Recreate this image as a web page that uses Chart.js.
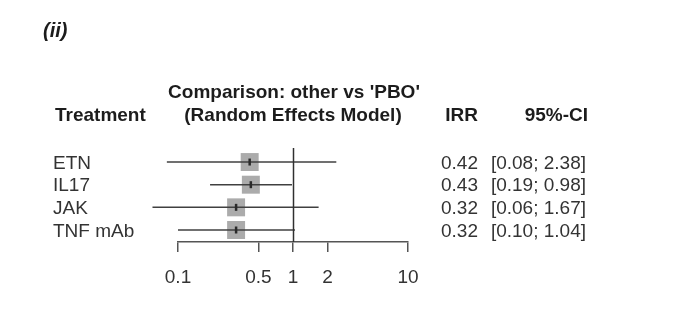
<!DOCTYPE html>
<html>
<head>
<meta charset="utf-8">
<script src="https://cdn.jsdelivr.net/npm/chart.js@4.4.1/dist/chart.umd.min.js"></script>
<style>
  html, body { margin: 0; padding: 0; background: #fff; }
  #wrap { position: relative; width: 691px; height: 335px; overflow: hidden; font-family: "Liberation Sans", Arial, sans-serif; }
  #wrap canvas { position: absolute; left: 0; top: 0; }
  .t { position: absolute; white-space: nowrap; line-height: 1; }
  .hdr { font-weight: bold; color: #1c1c1c; font-size: 19px; }
  .row { color: #333; font-size: 19px; }
  .ttl { font-weight: bold; font-style: italic; color: #1c1c1c; font-size: 20px; }
</style>
</head>
<body>
<div id="wrap">
  <canvas id="c" width="691" height="335"></canvas>
</div>
<script>
// Network meta-analysis: incidence rate ratios versus placebo
const treatments = ['ETN', 'IL17', 'JAK', 'TNF mAb'];
const irr   = [0.42, 0.43, 0.32, 0.32];
const ciLow = [0.08, 0.19, 0.06, 0.10];
const ciHigh = [2.38, 0.98, 1.67, 1.04];
const tickValues = [0.1, 0.5, 1, 2, 10];
const refValue = 1;

const FS = 19;
const wrap = document.getElementById('wrap');

// place a text node with its baseline at y
function addText(txt, cls, x, baseline, align, fs) {
  fs = fs || FS;
  const el = document.createElement('div');
  el.className = 't ' + cls;
  el.textContent = txt;
  el.style.top = (baseline - 0.8465 * fs) + 'px';
  wrap.appendChild(el);
  const w = el.getBoundingClientRect().width;
  if (align === 'center') el.style.left = (x - w / 2) + 'px';
  else if (align === 'right') el.style.left = (x - w) + 'px';
  else el.style.left = x + 'px';
  return el;
}

addText('(ii)', 'ttl', 43, 36.5, 'left', 20);
addText("Comparison: other vs 'PBO'", 'hdr', 294, 98, 'center');
addText('(Random Effects Model)', 'hdr', 293, 121, 'center');
addText('Treatment', 'hdr', 55, 121, 'left');
addText('IRR', 'hdr', 478, 121, 'right');
addText('95%-CI', 'hdr', 588, 121, 'right');

const rowsY = treatments.map((_, i) => i + 1);

// datasets: squares, CI whiskers, centre marks
const datasets = [];
datasets.push({
  type: 'scatter',
  data: irr.map((v, i) => ({ x: v, y: rowsY[i] })),
  pointStyle: 'rect',
  pointRadius: 12.7,
  pointHoverRadius: 12.7,
  backgroundColor: '#ababab',
  borderWidth: 0,
  clip: false,
  order: 3
});
treatments.forEach((name, i) => {
  datasets.push({
    type: 'line',
    data: [{ x: ciLow[i], y: rowsY[i] }, { x: ciHigh[i], y: rowsY[i] }],
    borderColor: '#404040',
    borderWidth: 1.5,
    pointRadius: 0,
    clip: false,
    order: 2
  });
});
datasets.push({
  type: 'scatter',
  data: irr.map((v, i) => ({ x: v, y: rowsY[i] })),
  pointStyle: 'line',
  rotation: 90,
  pointRadius: 3.5,
  borderColor: '#2a2a2a',
  borderWidth: 2.5,
  clip: false,
  order: 1
});

const refLine = {
  id: 'refLine',
  afterDatasetsDraw(chart) {
    const { ctx, chartArea, scales } = chart;
    const x = Math.round(scales.x.getPixelForValue(refValue)) + 0.5;
    ctx.save();
    ctx.strokeStyle = '#303030';
    ctx.lineWidth = 1.5;
    ctx.beginPath();
    ctx.moveTo(x, chartArea.top);
    ctx.lineTo(x, chartArea.bottom);
    ctx.stroke();
    ctx.restore();
  }
};

const chart = new Chart(document.getElementById('c'), {
  data: { datasets },
  options: {
    responsive: false,
    animation: false,
    events: [],
    layout: { padding: { left: 178, right: 283, top: 148, bottom: 0 } },
    plugins: { legend: { display: false }, tooltip: { enabled: false } },
    scales: {
      x: {
        type: 'logarithmic',
        min: 0.1,
        max: 10,
        afterBuildTicks: s => { s.ticks = tickValues.map(v => ({ value: v })); },
        afterFit: s => { s.height = 93; },
        border: { display: true, color: '#555', width: 1.5 },
        grid: { drawOnChartArea: false, drawTicks: true, tickLength: 10, color: '#555', lineWidth: 1.5 },
        ticks: {
          autoSkip: false,
          maxRotation: 0,
          padding: 14,
          color: '#333',
          font: { family: '"Liberation Sans", Arial, sans-serif', size: FS },
          callback: v => String(v)
        }
      },
      y: {
        type: 'linear',
        min: 0.38,
        max: 4.53,
        reverse: true,
        display: false
      }
    }
  },
  plugins: [refLine]
});

// row labels and estimates, aligned to the chart's y scale
const ys = chart.scales.y;
treatments.forEach((name, i) => {
  const base = ys.getPixelForValue(rowsY[i]) + 0.358 * FS;
  addText(name, 'row', 53, base, 'left');
  addText(irr[i].toFixed(2), 'row', 478, base, 'right');
  addText('[' + ciLow[i].toFixed(2) + '; ' + ciHigh[i].toFixed(2) + ']', 'row', 586, base, 'right');
});
</script>
</body>
</html>
